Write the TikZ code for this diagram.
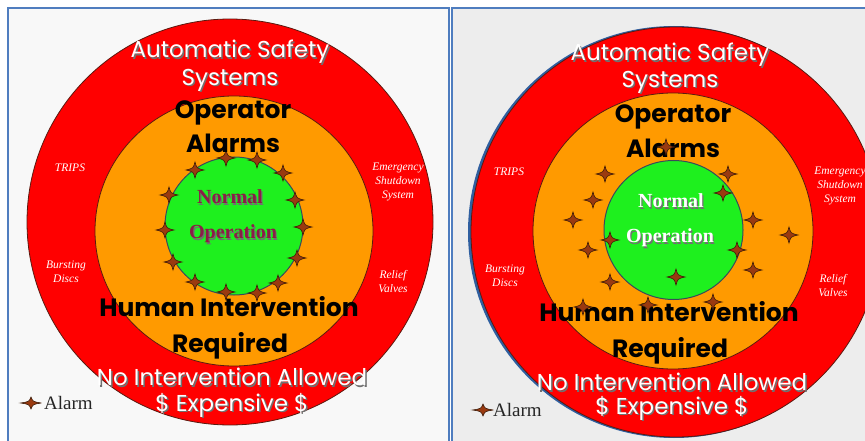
\documentclass[tikz,border=0pt]{standalone}
\usepackage{fontspec}
\setmainfont{Liberation Serif}
\newfontfamily\comic{Poppins}
\begin{document}
\begin{tikzpicture}[x=1pt,y=-1pt,
  framecol/.style={draw=frameblue,line width=2pt},
  ringred/.style={fill=ringRed,draw=ringEdge,line width=0.8pt},
  ringorange/.style={fill=ringOrange,draw=ringEdge,line width=0.8pt},
  ringgreen/.style={fill=ringGreen,draw=greenEdge,line width=1pt},
  whitelbl/.style={font=\comic\fontsize{23}{25}\selectfont,text=white,inner sep=0pt},
  shadowlbl/.style={font=\comic\fontsize{23}{25}\selectfont,text=shadowGray,inner sep=0pt},
  blacklbl/.style={font=\comic\bfseries\fontsize{25}{27}\selectfont,text=black,inner sep=0pt},
  normlbl/.style={font=\bfseries\fontsize{20}{22}\selectfont,inner sep=0pt},
  sidelbl/.style={font=\itshape\fontsize{11.5}{14}\selectfont,text=white,align=center,inner sep=0pt},
  legendlbl/.style={font=\fontsize{19}{21}\selectfont,text=black!85,inner sep=0pt,anchor=west},
  alarmstar/.pic={\filldraw[fill=starBrown,draw=starEdge,line width=0.6pt]
      (9,0) .. controls (1.7,1.7) .. (0,8) .. controls (-1.7,1.7) .. (-9,0)
      .. controls (-1.7,-1.7) .. (0,-8) .. controls (1.7,-1.7) .. cycle;},
]
\definecolor{frameblue}{HTML}{4F7DBF}
\definecolor{ringRed}{HTML}{FF0000}
\definecolor{ringEdge}{HTML}{5A1A10}
\definecolor{ringOrange}{HTML}{FF9A00}
\definecolor{ringGreen}{HTML}{1EF01E}
\definecolor{greenEdge}{HTML}{3A4A5A}
\definecolor{shadowGray}{HTML}{707070}
\definecolor{starBrown}{HTML}{9A3A10}
\definecolor{starEdge}{HTML}{3A1A08}
\definecolor{maroon}{HTML}{8A1E46}
\definecolor{panelA}{HTML}{F8F8F8}
\definecolor{panelB}{HTML}{EDEDED}
\definecolor{rimBlue}{HTML}{2F5FA0}

\useasboundingbox (0,0) rectangle (865,441);
\fill[white] (0,0) rectangle (865,441);

% ---------- left panel ----------
\fill[panelA] (8,8) rectangle (449,445);
\begin{scope}
  \clip (8,8) rectangle (449,445);
  \filldraw[ringred] (230,222) circle[radius=203];
  \filldraw[ringorange] (234,231) ellipse[x radius=139,y radius=135];
  \filldraw[ringgreen] (234,226) circle[radius=69];
\end{scope}
\foreach \p in {(226,158),(257,160),(195,170),(283,173),(169,195),(295,200),
                (165,230),(303,227),(173,262),(297,258),(195,282),(278,283),
                (226,292),(257,293)}
  \pic at \p {alarmstar};

\node[shadowlbl] at (231.5,53.5) {Automatic Safety};
\node[whitelbl] (la1) at (230,52) {Automatic Safety};
\node[shadowlbl] at (231.5,81.5) {Systems};
\node[whitelbl] (la2) at (230,80) {Systems};
\node[blacklbl] (lo1) at (233,113) {Operator};
\node[blacklbl] (lo2) at (233,143) {Alarms};
\node[normlbl,text=shadowGray] at (231.2,198.2) {Normal};
\node[normlbl,text=maroon] (ln1) at (230,197) {Normal};
\node[normlbl,text=shadowGray] at (234.2,235.2) {Operation};
\node[normlbl,text=maroon] (ln2) at (233,234) {Operation};
\node[blacklbl] (lh1) at (229,307) {Human Intervention};
\node[blacklbl] (lh2) at (230,346) {Required};
\node[shadowlbl] at (233.5,378.5) {No Intervention Allowed};
\node[whitelbl] (lx1) at (232,377) {No Intervention Allowed};
\node[shadowlbl] at (233.5,406.5) {\$ Expensive \$};
\node[whitelbl] (lx2) at (232,405) {\$ Expensive \$};
\node[sidelbl] (ltrip) at (70,168) {TRIPS};
\node[sidelbl] (lburst) at (66,272) {Bursting\\Discs};
\node[sidelbl] (lesd) at (398,182) {Emergency\\Shutdown\\System};
\node[sidelbl] (lrelief) at (393,282) {Relief\\Valves};
\pic[xscale=1.15,yscale=0.75] at (31,403) {alarmstar};
\node[legendlbl] (lleg) at (44,403) {Alarm};
\draw[framecol] (8,445) -- (8,8) -- (449,8) -- (449,445);

% ---------- right panel ----------
\fill[panelB] (452,8) rectangle (870,445);
\begin{scope}
  \clip (452,8) rectangle (865,445);
  \fill[rimBlue] (674,232) circle[radius=206];
  \filldraw[ringred] (676,232) circle[radius=205];
  \filldraw[ringorange] (673,231) ellipse[x radius=140,y radius=138];
  \filldraw[ringgreen] (673.5,230) circle[radius=69.5];
\end{scope}

\node[shadowlbl] at (671.5,56.5) {Automatic Safety};
\node[whitelbl] (ra1) at (670,55) {Automatic Safety};
\node[shadowlbl] at (671.5,83.5) {Systems};
\node[whitelbl] (ra2) at (670,82) {Systems};
\node[blacklbl] (ro1) at (673,117) {Operator};
\node[blacklbl] (ro2) at (673,148) {Alarms};
\node[normlbl,text=shadowGray] at (672.2,202.2) {Normal};
\node[normlbl,text=white] (rn1) at (671,201) {Normal};
\node[normlbl,text=shadowGray] at (671.2,239.2) {Operation};
\node[normlbl,text=white] (rn2) at (670,238) {Operation};
\node[blacklbl] (rh1) at (669,312) {Human Intervention};
\node[blacklbl] (rh2) at (670,351) {Required};
\foreach \p in {(666,147),(605,174),(728,174),(593,200),(723,193),(573,220),
                (753,220),(789,235),(610,240),(588,250),(737,250),(753,270),
                (610,282),(676,277),(713,302),(583,307),(648,305)}
  \pic at \p {alarmstar};
\node[shadowlbl] at (673.5,383.5) {No Intervention Allowed};
\node[whitelbl] (rx1) at (672,382) {No Intervention Allowed};
\node[shadowlbl] at (673.5,409.5) {\$ Expensive \$};
\node[whitelbl] (rx2) at (672,408) {\$ Expensive \$};
\node[sidelbl] (rtrip) at (509,172) {TRIPS};
\node[sidelbl] (rburst) at (505,276) {Bursting\\Discs};
\node[sidelbl] (resd) at (840,186) {Emergency\\Shutdown\\System};
\node[sidelbl] (rrelief) at (833,286) {Relief\\Valves};
\pic[xscale=1.15,yscale=0.75] at (483,410) {alarmstar};
\node[legendlbl] (rleg) at (493,410) {Alarm};
\draw[framecol] (452,445) -- (452,8) -- (870,8);
\end{tikzpicture}
\end{document}
